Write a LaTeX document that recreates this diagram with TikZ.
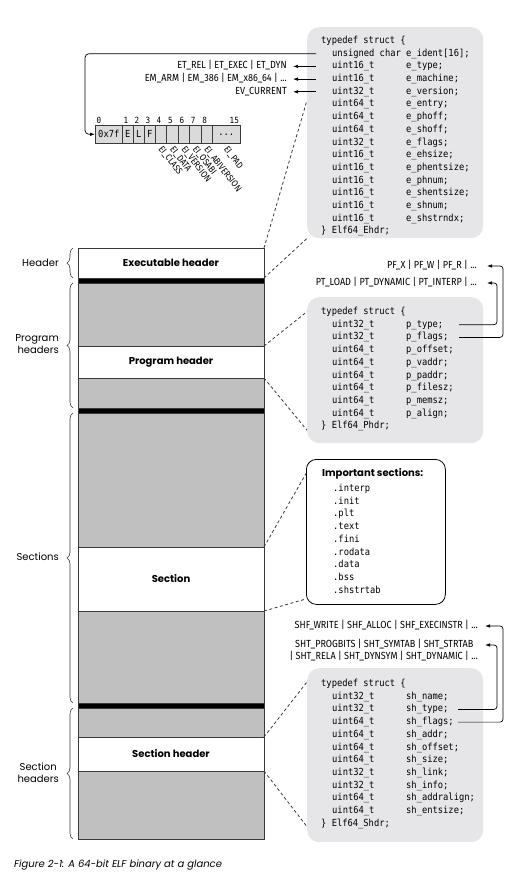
\documentclass[tikz,border=0pt]{standalone}
\usepackage{fontspec}
\setmainfont{Poppins}
\newfontfamily\fut{Poppins}
\newfontfamily\code{DejaVu Sans Mono}[FakeStretch=0.9]
\newfontfamily\cond{Fira Sans}[FakeStretch=0.88]
\usetikzlibrary{arrows.meta,calc,decorations.pathreplacing}
\definecolor{colgray}{HTML}{C0C0C0}
\definecolor{structgray}{HTML}{E6E6E8}
\definecolor{cellgray}{HTML}{DADADA}
\definecolor{edgec}{HTML}{3A3A3A}
\begin{document}
\begin{tikzpicture}[x=1pt,y=-1pt,
  blk/.style={draw=edgec, line width=0.7pt, anchor=north west, minimum width=186pt, inner sep=0pt, outer sep=0pt, font=\fut\bfseries\fontsize{10}{12}\selectfont},
  graybk/.style={blk, fill=colgray},
  whitebk/.style={blk, fill=white},
  barbk/.style={blk, fill=black, minimum height=5pt},
  bracedeco/.style={decorate, decoration={brace, amplitude=6pt}, line width=0.6pt, draw=edgec},
  sidelab/.style={font=\fut\fontsize{10}{12}\selectfont, inner sep=0pt, anchor=east},
  sbox/.style={fill=structgray, rounded corners=12pt, inner sep=0pt, anchor=north west, minimum width=176pt},
  code/.style={font=\code\fontsize{9.75}{12}\selectfont, inner sep=0pt, anchor=west, text height=7pt, text depth=2pt},
  lab/.style={font=\cond\fontsize{10.3}{12}\selectfont, inner sep=0pt, text height=7pt, text depth=2pt},
  rlab/.style={font=\cond\fontsize{9.2}{11}\selectfont, inner sep=0pt, text height=6pt, text depth=1.5pt, rotate=-52, anchor=north west},
  cell/.style={draw=edgec, fill=cellgray, line width=0.6pt, anchor=north west, minimum height=18pt, inner sep=0pt, font=\code\fontsize{9.75}{10}\selectfont},
  num/.style={font=\code\fontsize{8.5}{10}\selectfont, inner sep=0pt},
  arr/.style={draw=black, line width=0.7pt, -{Latex[length=5pt,width=3.5pt]}, rounded corners=3pt},
  dashc/.style={draw=edgec, line width=0.8pt, dash pattern=on 3pt off 2.5pt}
]
\useasboundingbox (0,0) rectangle (525,890);

% ---------- main column ----------
\node[whitebk, minimum height=30pt] (exh) at (78,248) {Executable header};
\node[barbk] (bar1) at (78,278) {};
\node[graybk, minimum height=63pt] (pg1) at (78,283) {};
\node[whitebk, minimum height=32pt] (ph) at (78,346) {Program header};
\node[graybk, minimum height=30pt] (pg2) at (78,378) {};
\node[barbk] (bar2) at (78,408) {};
\node[graybk, minimum height=134pt] (sg1) at (78,413) {};
\node[whitebk, minimum height=64pt] (sec) at (78,547) {Section};
\node[graybk, minimum height=92pt] (sg2) at (78,611) {};
\node[barbk] (bar3) at (78,703) {};
\node[graybk, minimum height=29pt] (shg1) at (78,708) {};
\node[whitebk, minimum height=34pt] (sh) at (78,737) {Section header};
\node[graybk, minimum height=68pt] (shg2) at (78,771) {};

% ---------- braces and side labels ----------
\draw[bracedeco] ([xshift=-5pt]exh.south west) -- ([xshift=-5pt]exh.north west);
\draw[bracedeco] ([xshift=-5pt]pg2.south west) -- ([xshift=-5pt]pg1.north west);
\draw[bracedeco] ([xshift=-5pt]sg2.south west) -- ([xshift=-5pt]sg1.north west);
\draw[bracedeco] ([xshift=-5pt]shg2.south west) -- ([xshift=-5pt]shg1.north west);
\node[sidelab] (lhdr) at (59,263) {Header};
\node[sidelab, align=right] (lph) at (59,344) {Program\\headers};
\node[sidelab] (lsec) at (59,557) {Sections};
\node[sidelab, align=center] (lsh) at (59,773) {Section\\headers};

% ---------- ELF header struct ----------
\node[sbox, minimum height=211pt] (ehdr) at (307,27) {};
\node[code] (et0) at (321,41) {typedef struct \{};
\foreach \ty/\nm [count=\k] in {{unsigned char}/{e\_ident[16];}, uint16\_t/e\_type;, uint16\_t/e\_machine;, uint32\_t/e\_version;, uint64\_t/e\_entry;, uint64\_t/e\_phoff;, uint64\_t/e\_shoff;, uint32\_t/e\_flags;, uint16\_t/e\_ehsize;, uint16\_t/e\_phentsize;, uint16\_t/e\_phnum;, uint16\_t/e\_shentsize;, uint16\_t/e\_shnum;, uint16\_t/e\_shstrndx;}{
  \node[code] (et\k) at (332,{41+12.7*\k}) {\ty};
  \node[code] (en\k) at (406,{41+12.7*\k}) {\nm};
}
\node[code] (et15) at (321,{41+12.7*15}) {\} Elf64\_Ehdr;};

\node[lab, anchor=east] (etl) at (287,{41+12.7*2}) {ET\_REL | ET\_EXEC | ET\_DYN};
\node[lab, anchor=east] (eml) at (287,{41+12.7*3}) {EM\_ARM | EM\_386 | EM\_x86\_64 | ...};
\node[lab, anchor=east] (evl) at (287,{41+12.7*4}) {EV\_CURRENT};

% e_ident bytes
\node[cell, minimum width=27pt] (c0) at (95,125) {0x7f};
\node[cell, minimum width=11pt] (c1) at (122,125) {E};
\node[cell, minimum width=11pt] (c2) at (133,125) {L};
\node[cell, minimum width=11pt] (c3) at (144,125) {F};
\node[cell, minimum width=11.4pt] (c4) at (155,125) {};
\node[cell, minimum width=11.4pt] (c5) at (166.4,125) {};
\node[cell, minimum width=11.4pt] (c6) at (177.8,125) {};
\node[cell, minimum width=11.4pt] (c7) at (189.2,125) {};
\node[cell, minimum width=11.4pt] (c8) at (200.6,125) {};
\node[cell, minimum width=28pt] (c9) at (212,125) {...};
\foreach \i in {0,...,8}{
  \node[num, anchor=south west] (n\i) at ([xshift=1.5pt,yshift=1.5pt]c\i.north west) {\i};
}
\node[num, anchor=south east] (n15) at ([xshift=-1.5pt,yshift=1.5pt]c9.north east) {15};
\foreach \i/\t in {4/EI\_CLASS, 5/EI\_DATA, 6/EI\_VERSION, 7/EI\_OSABI, 8/EI\_ABIVERSION, 9/EI\_PAD}{
  \node[rlab] (ei\i) at ([xshift=2pt,yshift=-2pt]c\i.south) {\t};
}

\coordinate (estart) at (316,0);
\draw[arr, rounded corners=4pt] (et1.west -| estart) -| ([xshift=-10pt]c0.west) -- (c0.west);
\draw[arr, shorten >=6pt] (et2.west -| estart) -- (etl.east);
\draw[arr, shorten >=6pt] (et3.west -| estart) -- (eml.east);
\draw[arr, shorten >=6pt] (et4.west -| estart) -- (evl.east);

% ---------- program header struct ----------
\node[sbox, minimum height=146pt] (phdr) at (307,297) {};
\node[code] (pt0) at (321,312) {typedef struct \{};
\foreach \ty/\nm [count=\k] in {uint32\_t/p\_type;, uint32\_t/p\_flags;, uint64\_t/p\_offset;, uint64\_t/p\_vaddr;, uint64\_t/p\_paddr;, uint64\_t/p\_filesz;, uint64\_t/p\_memsz;, uint64\_t/p\_align;}{
  \node[code] (pt\k) at (332,{312+12.7*\k}) {\ty};
  \node[code] (pn\k) at (406,{312+12.7*\k}) {\nm};
}
\node[code] (pt9) at (321,{312+12.7*9}) {\} Elf64\_Phdr;};

\node[lab, anchor=east] (pfl) at (477,266) {PF\_X | PF\_W | PF\_R | ...};
\node[lab, anchor=east] (ptl) at (477,283) {PT\_LOAD | PT\_DYNAMIC | PT\_INTERP | ...};
\coordinate (pstart) at (459,0);
\draw[arr, shorten >=10pt] (pn1.east -| pstart) -| ($(ptl.east)+(20,0)$) -- (ptl.east);
\draw[arr, shorten >=10pt] (pn2.east -| pstart) -| ($(pfl.east)+(26,0)$) -- (pfl.east);

% ---------- important sections ----------
\node[draw=black, line width=0.8pt, fill=white, rounded corners=10pt, anchor=north west, minimum width=139pt, minimum height=145pt, inner sep=0pt] (imp) at (306,459) {};
\node[font=\fut\bfseries\fontsize{10}{12}\selectfont, anchor=west, inner sep=0pt] (imph) at (322,474) {Important sections:};
\foreach \s [count=\k] in {.interp, .init, .plt, .text, .fini, .rodata, .data, .bss, .shstrtab}{
  \node[code] (is\k) at (333,{476.3+12.7*\k}) {\s};
}

% ---------- section header struct ----------
\node[sbox, minimum height=174pt] (shdr) at (307,668) {};
\node[code] (st0) at (321,684) {typedef struct \{};
\foreach \ty/\nm [count=\k] in {uint32\_t/sh\_name;, uint32\_t/sh\_type;, uint64\_t/sh\_flags;, uint64\_t/sh\_addr;, uint64\_t/sh\_offset;, uint64\_t/sh\_size;, uint32\_t/sh\_link;, uint32\_t/sh\_info;, uint64\_t/sh\_addralign;, uint64\_t/sh\_entsize;}{
  \node[code] (st\k) at (332,{684+12.7*\k}) {\ty};
  \node[code] (sn\k) at (406,{684+12.7*\k}) {\nm};
}
\node[code] (st11) at (321,{684+12.7*11}) {\} Elf64\_Shdr;};

\node[lab, anchor=east] (shfl) at (478,626) {SHF\_WRITE | SHF\_ALLOC | SHF\_EXECINSTR | ...};
\node[lab, anchor=west] (sht1) at (295,645) {SHT\_PROGBITS | SHT\_SYMTAB | SHT\_STRTAB};
\node[lab, anchor=east] (sht2) at (478,657) {| SHT\_RELA | SHT\_DYNSYM | SHT\_DYNAMIC | ...};
\coordinate (sstart) at (458,0);
\draw[arr, shorten >=7pt] (sn2.east -| sstart) -| ($(sht1.east -| shfl.east)+(19,0)$) -- (sht1.east -| shfl.east);
\draw[arr, shorten >=7pt] (sn3.east -| sstart) -| ($(shfl.east)+(25,0)$) -- (shfl.east);

% ---------- dashed zoom lines ----------
\draw[dashc] (exh.north east) -- ($(ehdr.north west)!0.346!(ehdr.south west)$);
\draw[dashc] (exh.south east) -- (ehdr.south west);
\draw[dashc] (ph.north east) -- ($(phdr.north west)!0.10!(phdr.south west)$);
\draw[dashc] (ph.south east) -- ($(phdr.north west)!0.91!(phdr.south west)$);
\draw[dashc] (sec.north east) -- ($(imp.north west)!0.10!(imp.south west)$);
\draw[dashc] (sec.south east) -- ($(imp.north west)!0.96!(imp.south west)$);
\draw[dashc] (sh.north east) -- ($(shdr.north west)!0.08!(shdr.south west)$);
\draw[dashc] (sh.south east) -- ($(shdr.north west)!0.91!(shdr.south west)$);

% ---------- caption ----------
\node[font=\fut\itshape\fontsize{10}{12}\selectfont, anchor=west, inner sep=0pt] (cap) at (14,865) {Figure 2-1: A 64-bit ELF binary at a glance};
\end{tikzpicture}
\end{document}
